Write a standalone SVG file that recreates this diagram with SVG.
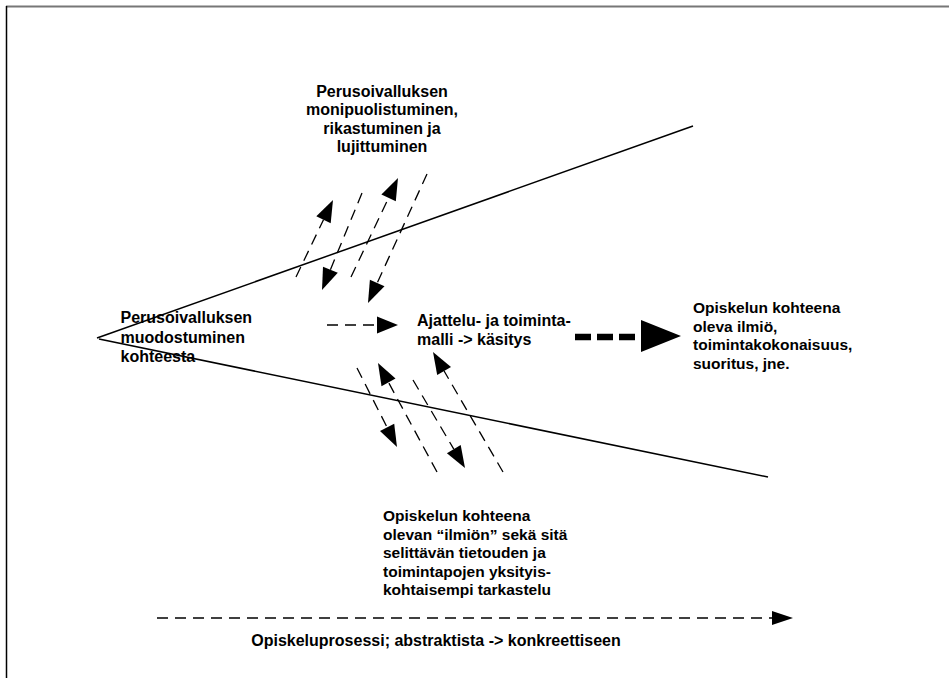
<svg xmlns="http://www.w3.org/2000/svg" width="949" height="678" viewBox="0 0 949 678">
  <style>
    .frame { stroke: #000; fill: none; }
    .edge { stroke: #000; stroke-width: 1.5; fill: none; }
    .dash { stroke: #000; stroke-width: 1.3; fill: none; stroke-dasharray: 11 7; }
    .head { fill: #000; stroke: none; }
    .lbl { font-family: "Liberation Sans", Arial, sans-serif; font-weight: bold; font-size: 16px; fill: #000; }
    .mid { font-size: 15.5px; }
  </style>

  <!-- page frame -->
  <g id="frame">
    <line x1="6" y1="6.5" x2="949" y2="6.5" stroke="#777" stroke-width="2"/>
    <line class="frame" x1="6.5" y1="6" x2="6.5" y2="678" stroke-width="1.5"/>
  </g>

  <!-- the two widening lines from the starting point -->
  <g id="wedge">
    <line class="edge" x1="97" y1="338" x2="693" y2="126"/>
    <line class="edge" x1="99" y1="339" x2="768" y2="477"/>
  </g>

  <g id="connectors">
    <!-- upper crossing arrows -->
    <line class="dash" x1="296" y1="277" x2="323.5" y2="219.8"/>
    <polygon class="head" points="333,200 316.3,216.3 330.7,223.3"/>
    <line class="dash" x1="362" y1="193" x2="330.4" y2="269.7"/>
    <polygon class="head" points="322,290 323,266.7 337.8,272.7"/>
    <line class="dash" x1="351" y1="277" x2="388.6" y2="197.9"/>
    <polygon class="head" points="398,178 381.4,194.5 395.8,201.3"/>
    <line class="dash" x1="427" y1="174" x2="377.2" y2="283"/>
    <polygon class="head" points="368,303 369.9,279.7 384.5,286.3"/>

    <!-- lower crossing arrows -->
    <line class="dash" x1="357" y1="368" x2="387.1" y2="427.4"/>
    <polygon class="head" points="397,447 380,431 394.2,423.8"/>
    <line class="dash" x1="437" y1="472" x2="388.5" y2="382.4"/>
    <polygon class="head" points="378,363 395.5,378.6 381.5,386.2"/>
    <line class="dash" x1="413" y1="380" x2="453.8" y2="449.1"/>
    <polygon class="head" points="465,468 446.9,453.2 460.7,445"/>
    <line class="dash" x1="503" y1="472" x2="444.1" y2="371"/>
    <polygon class="head" points="433,352 451,367 437.2,375"/>

    <!-- short arrow into the model -->
    <line class="dash" x1="327" y1="325" x2="378" y2="325" stroke-dasharray="9 7"/>
    <polygon class="head" points="377,316.5 398,325 377,333.5"/>

    <!-- bold arrow towards the studied phenomenon -->
    <line x1="575" y1="337" x2="643" y2="337" stroke="#000" stroke-width="6.5" stroke-dasharray="16 6"/>
    <polygon class="head" points="641,320 681,336 641,352"/>

    <!-- process timeline -->
    <line class="dash" x1="157" y1="618" x2="773" y2="618" stroke-dasharray="14 10"/>
    <polygon class="head" points="772,611 793,618 772,625"/>
  </g>

  <g id="node-start">
    <text class="lbl"><tspan x="120.5" y="323">Perusoivalluksen</tspan><tspan x="120.5" y="342.5">muodostuminen</tspan><tspan x="120.5" y="362">kohteesta</tspan></text>
  </g>

  <g id="node-enrich">
    <text class="lbl" text-anchor="middle"><tspan x="382" y="96.5">Perusoivalluksen</tspan><tspan x="382" y="115">monipuolistuminen,</tspan><tspan x="382" y="133.5">rikastuminen ja</tspan><tspan x="382" y="152">lujittuminen</tspan></text>
  </g>

  <g id="node-model">
    <text class="lbl"><tspan x="417" y="326">Ajattelu- ja toiminta-</tspan><tspan x="417" y="345">malli -&gt; käsitys</tspan></text>
  </g>

  <g id="node-phenomenon">
    <text class="lbl mid"><tspan x="693" y="313">Opiskelun kohteena</tspan><tspan x="693" y="331.5">oleva ilmiö,</tspan><tspan x="693" y="350">toimintakokonaisuus,</tspan><tspan x="693" y="368.5">suoritus, jne.</tspan></text>
  </g>

  <g id="node-detail">
    <text class="lbl mid"><tspan x="383" y="521">Opiskelun kohteena</tspan><tspan x="383" y="539.5">olevan “ilmiön” sekä sitä</tspan><tspan x="383" y="558">selittävän tietouden ja</tspan><tspan x="383" y="576.5">toimintapojen yksityis-</tspan><tspan x="383" y="595">kohtaisempi tarkastelu</tspan></text>
  </g>

  <g id="node-process">
    <text class="lbl" text-anchor="middle" x="436" y="646" font-size="16.4">Opiskeluprosessi; abstraktista -&gt; konkreettiseen</text>
  </g>
</svg>
